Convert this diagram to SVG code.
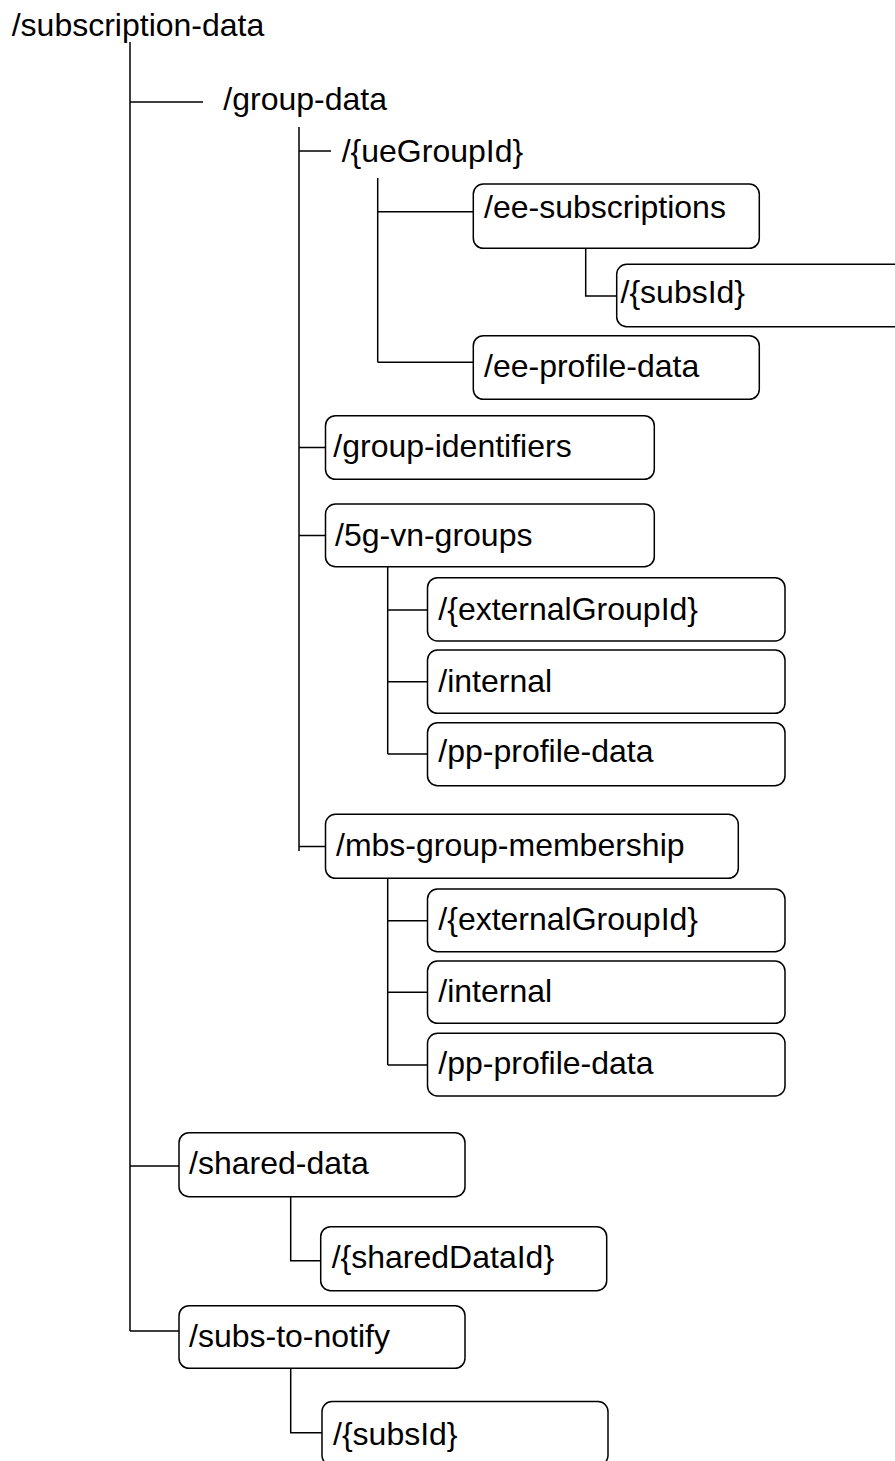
<svg xmlns="http://www.w3.org/2000/svg" width="895" height="1461" viewBox="0 0 895 1461">
<style>
.b{fill:#fff;stroke:#000;stroke-width:1.5}
.t{font-family:"Liberation Sans",Arial,sans-serif;font-size:32px;fill:#000}
.c{stroke:#000;stroke-width:1.5;fill:none}
</style>
<rect x="0" y="0" width="895" height="1461" fill="#fff"/>
<g id="connectors">
<path class="c" d="M130 42V1331M130 102H203M130 1166H179M130 1331H179"/>
<path class="c" d="M299 127V851M299 151H331M299 447.5H325.5M299 535.5H325.5M299 846.5H325.5"/>
<path class="c" d="M377.7 178V362.3M377.7 211.7H473.3M377.7 362.3H473.3"/>
<path class="c" d="M585.7 248.3V296H616.7"/>
<path class="c" d="M387.7 567V754M387.7 610H427.5M387.7 681.7H427.5M387.7 754H427.5"/>
<path class="c" d="M387.7 878.5V1065M387.7 920.7H427.5M387.7 992.3H427.5M387.7 1065H427.5"/>
<path class="c" d="M290.7 1197V1260.7H321"/>
<path class="c" d="M290.7 1368.5V1432.7H322"/>
</g>
<g id="n-subscription-data"><text class="t" x="11.7" y="36">/subscription-data</text></g>
<g id="n-group-data"><text class="t" x="223.3" y="110">/group-data</text></g>
<g id="n-ueGroupId"><text class="t" x="341.7" y="161.7">/{ueGroupId}</text></g>
<g id="n-ee-subscriptions"><rect class="b" x="473.3" y="184" width="286" height="64.3" rx="10"/><text class="t" x="484" y="218.3">/ee-subscriptions</text></g>
<g id="n-ee-subsId"><rect class="b" x="616.7" y="264.3" width="290" height="62.4" rx="10"/><text class="t" x="620.5" y="303.3">/{subsId}</text></g>
<g id="n-ee-profile-data"><rect class="b" x="473.3" y="335.7" width="286" height="63.6" rx="10"/><text class="t" x="484" y="377">/ee-profile-data</text></g>
<g id="n-group-identifiers"><rect class="b" x="325.5" y="415.7" width="328.8" height="63.6" rx="10"/><text class="t" x="333.3" y="456.7">/group-identifiers</text></g>
<g id="n-5g-vn-groups"><rect class="b" x="325.5" y="504" width="328.8" height="62.7" rx="10"/><text class="t" x="335" y="545.7">/5g-vn-groups</text></g>
<g id="n-vn-externalGroupId"><rect class="b" x="427.5" y="577.7" width="357.5" height="63.3" rx="10"/><text class="t" x="438.3" y="620">/{externalGroupId}</text></g>
<g id="n-vn-internal"><rect class="b" x="427.5" y="650" width="357.5" height="63.3" rx="10"/><text class="t" x="438.3" y="691.7">/internal</text></g>
<g id="n-vn-pp-profile-data"><rect class="b" x="427.5" y="722.7" width="357.5" height="63" rx="10"/><text class="t" x="438.3" y="762.3">/pp-profile-data</text></g>
<g id="n-mbs-group-membership"><rect class="b" x="325.5" y="814.3" width="412.8" height="64" rx="10"/><text class="t" x="336" y="856">/mbs-group-membership</text></g>
<g id="n-mbs-externalGroupId"><rect class="b" x="427.5" y="889" width="357.5" height="62.7" rx="10"/><text class="t" x="438.3" y="930">/{externalGroupId}</text></g>
<g id="n-mbs-internal"><rect class="b" x="427.5" y="961" width="357.5" height="62.3" rx="10"/><text class="t" x="438.3" y="1001.7">/internal</text></g>
<g id="n-mbs-pp-profile-data"><rect class="b" x="427.5" y="1033.3" width="357.5" height="62.7" rx="10"/><text class="t" x="438.3" y="1074">/pp-profile-data</text></g>
<g id="n-shared-data"><rect class="b" x="179" y="1132.7" width="286" height="64" rx="10"/><text class="t" x="189" y="1174">/shared-data</text></g>
<g id="n-sharedDataId"><rect class="b" x="320.7" y="1226.7" width="286" height="64" rx="10"/><text class="t" x="331.7" y="1268.3">/{sharedDataId}</text></g>
<g id="n-subs-to-notify"><rect class="b" x="179" y="1305.7" width="286" height="62.6" rx="10"/><text class="t" x="189" y="1346.7">/subs-to-notify</text></g>
<g id="n-subsId"><rect class="b" x="322" y="1401.5" width="286" height="64" rx="10"/><text class="t" x="333" y="1445">/{subsId}</text></g>
</svg>
